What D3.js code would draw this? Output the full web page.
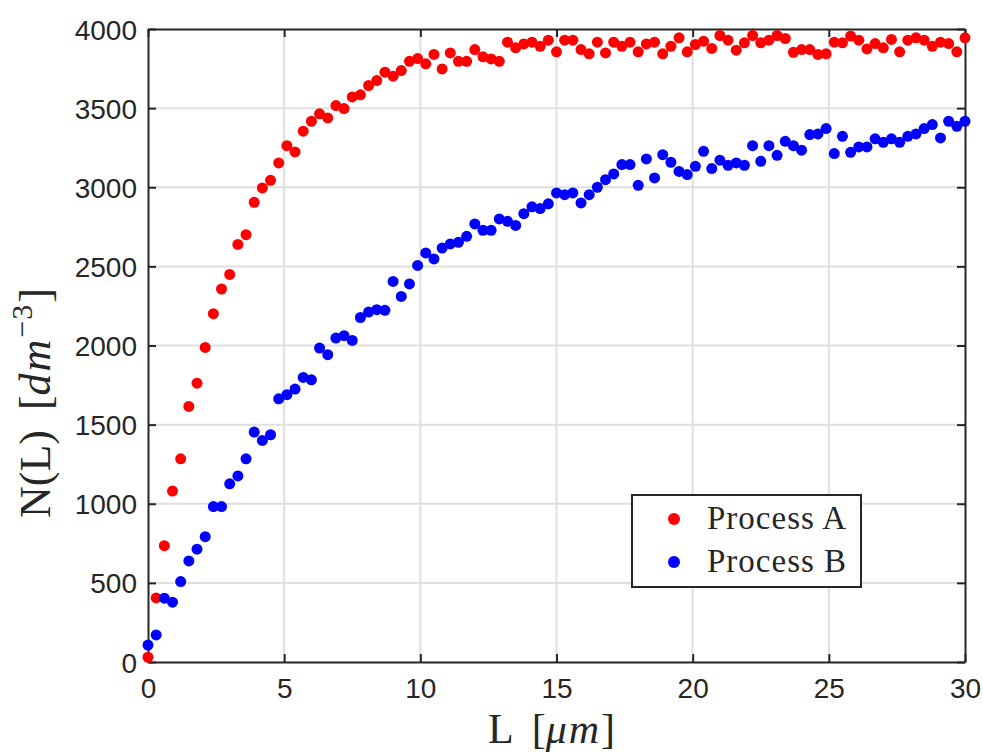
<!DOCTYPE html>
<html lang="en">
<head>
  <meta charset="UTF-8">
  <title>N(L) - Process A / Process B</title>
  <style>
    body { margin: 0; background: #fff; }
    svg { display: block; }
    .tick-label { font-family: "Liberation Sans", Arial, sans-serif; font-size: 28px; fill: #262626; }
    .axis-title, .legend-label { font-family: "Liberation Serif", "Times New Roman", serif; fill: #262626; }
  </style>
</head>
<body>
<div class="chart"></div>
<script src="https://cdn.jsdelivr.net/npm/d3@7"></script>
<script>
  // L values in micrometres (one dot per value, both processes)
  const lengths = [0, 0.3, 0.6, 0.9, 1.2, 1.5, 1.8, 2.1, 2.4, 2.7, 3, 3.3, 3.6, 3.9, 4.2, 4.5, 4.8, 5.1, 5.4, 5.7,
    6, 6.3, 6.6, 6.9, 7.2, 7.5, 7.8, 8.1, 8.4, 8.7, 9, 9.3, 9.6, 9.9, 10.2, 10.5, 10.8, 11.1, 11.4, 11.7,
    12, 12.3, 12.6, 12.9, 13.2, 13.5, 13.8, 14.1, 14.4, 14.7, 15, 15.3, 15.6, 15.9, 16.2, 16.5, 16.8, 17.1, 17.4, 17.7,
    18, 18.3, 18.6, 18.9, 19.2, 19.5, 19.8, 20.1, 20.4, 20.7, 21, 21.3, 21.6, 21.9, 22.2, 22.5, 22.8, 23.1, 23.4, 23.7,
    24, 24.3, 24.6, 24.9, 25.2, 25.5, 25.8, 26.1, 26.4, 26.7, 27, 27.3, 27.6, 27.9, 28.2, 28.5, 28.8, 29.1, 29.4, 29.7, 30];

  const processA = [30, 405, 735, 1080, 1284, 1615, 1762, 1988, 2201, 2357, 2449, 2639, 2700, 2905, 2996, 3044, 3154,
    3263, 3223, 3354, 3417, 3464, 3438, 3516, 3497, 3571, 3584, 3643, 3674, 3727, 3702, 3737, 3796, 3813,
    3780, 3839, 3748, 3849, 3796, 3796, 3870, 3824, 3811, 3796, 3917, 3881, 3906, 3917, 3891, 3929, 3856,
    3929, 3929, 3870, 3843, 3917, 3849, 3917, 3891, 3917, 3856, 3906, 3917, 3843, 3891, 3944, 3856, 3902,
    3923, 3877, 3959, 3929, 3866, 3913, 3959, 3913, 3929, 3959, 3940, 3853, 3870, 3870, 3839, 3843, 3917,
    3913, 3955, 3929, 3874, 3908, 3881, 3934, 3856, 3929, 3944, 3929, 3891, 3917, 3908, 3856, 3944];

  const processB = [107, 171, 403, 378, 508, 639, 713, 792, 982, 982, 1126, 1176, 1284, 1453, 1400, 1436, 1663,
    1689, 1725, 1798, 1783, 1984, 1942, 2047, 2062, 2032, 2177, 2211, 2226, 2222, 2405, 2310, 2389, 2506,
    2585, 2547, 2616, 2642, 2652, 2690, 2768, 2728, 2728, 2800, 2785, 2759, 2833, 2876, 2865, 2895, 2964,
    2953, 2964, 2901, 2953, 3000, 3048, 3084, 3143, 3143, 3012, 3179, 3059, 3206, 3158, 3100, 3080, 3132,
    3227, 3118, 3171, 3139, 3154, 3139, 3263, 3164, 3263, 3202, 3290, 3263, 3234, 3333, 3337, 3371, 3213,
    3322, 3221, 3255, 3255, 3306, 3284, 3306, 3284, 3322, 3337, 3371, 3396, 3312, 3417, 3385, 3417];

  const xTicks = [0, 5, 10, 15, 20, 25, 30];
  const yTicks = [0, 500, 1000, 1500, 2000, 2500, 3000, 3500, 4000];

  const seriesNames = ["Process A", "Process B"];
  const seriesColors = ["#ff0000", "#0000ff"];

  const width = 983,
    height = 754;
  const margin = {left: 148, right: 18, top: 29, bottom: 92};
  const axisColor = "#262626";

  const svg = d3.select(".chart")
    .append("svg")
    .attr("width", width)
    .attr("height", height);

  const x = d3.scaleLinear().domain([0, 30]).range([margin.left, width - margin.right]);
  const y = d3.scaleLinear().domain([0, 4000]).range([height - margin.bottom, margin.top]);

  /**
   * Grid
   */
  svg.append("g")
    .selectAll("line")
    .data(xTicks.slice(1, -1))
    .enter()
    .append("line")
    .attr("x1", d => x(d)).attr("x2", d => x(d))
    .attr("y1", y(0)).attr("y2", y(4000))
    .attr("stroke", "#dfdfdf")
    .attr("stroke-width", 2);

  svg.append("g")
    .selectAll("line")
    .data(yTicks.slice(1, -1))
    .enter()
    .append("line")
    .attr("x1", x(0)).attr("x2", x(30))
    .attr("y1", d => y(d)).attr("y2", d => y(d))
    .attr("stroke", "#dfdfdf")
    .attr("stroke-width", 2);

  /**
   * Axes (matlab style: box + inward ticks on all sides)
   */
  const tickLen = 8;
  const fmt = d3.format("d");
  const bottomAxis = svg.append("g")
    .attr("transform", `translate(0, ${y(0)})`)
    .call(d3.axisBottom(x).tickValues(xTicks).tickFormat(fmt).tickSizeInner(-tickLen).tickSizeOuter(0).tickPadding(16));
  const topAxis = svg.append("g")
    .attr("transform", `translate(0, ${y(4000)})`)
    .call(d3.axisTop(x).tickValues(xTicks).tickSizeInner(-tickLen).tickSizeOuter(0).tickFormat(""));
  const leftAxis = svg.append("g")
    .attr("transform", `translate(${x(0)}, 0)`)
    .call(d3.axisLeft(y).tickValues(yTicks).tickFormat(fmt).tickSizeInner(-tickLen).tickSizeOuter(0).tickPadding(11));
  const rightAxis = svg.append("g")
    .attr("transform", `translate(${x(30)}, 0)`)
    .call(d3.axisRight(y).tickValues(yTicks).tickSizeInner(-tickLen).tickSizeOuter(0).tickFormat(""));

  [bottomAxis, topAxis, leftAxis, rightAxis].forEach(g => {
    g.select(".domain").attr("stroke", axisColor).attr("stroke-width", 2);
    g.selectAll(".tick line").attr("stroke", axisColor).attr("stroke-width", 2);
    g.selectAll(".tick text").attr("class", "tick-label").attr("fill", null);
  });
  bottomAxis.selectAll(".tick text").attr("dy", "0.72em");
  leftAxis.selectAll(".tick text").attr("dy", "0.36em");

  /**
   * Dots: A first, B on top
   */
  [processA, processB].forEach((values, i) => {
    svg.append("g")
      .selectAll("circle")
      .data(values)
      .enter()
      .append("circle")
      .attr("cx", (d, j) => x(lengths[j]))
      .attr("cy", d => y(d))
      .attr("r", 5.5)
      .attr("fill", seriesColors[i]);
  });

  /**
   * Axis titles
   */
  const xTitle = svg.append("text")
    .attr("class", "axis-title")
    .attr("x", 488)
    .attr("y", 743)
    .attr("font-size", 42);
  xTitle.append("tspan").text("L");
  xTitle.append("tspan").attr("dx", 18).text("[");
  xTitle.append("tspan").attr("font-style", "italic").attr("letter-spacing", 2).text("μm");
  xTitle.append("tspan").text("]");

  const yTitle = svg.append("text")
    .attr("class", "axis-title")
    .attr("transform", `translate(50, 518) rotate(-90)`)
    .attr("font-size", 44);
  yTitle.append("tspan").text("N(L)");
  yTitle.append("tspan").attr("dx", 20).text("[");
  yTitle.append("tspan").attr("font-style", "italic").attr("letter-spacing", 2).text("dm");
  yTitle.append("tspan").attr("font-size", 30).attr("dy", -18).attr("letter-spacing", 1).text("−3");
  yTitle.append("tspan").attr("dy", 18).attr("dx", 1).text("]");

  /**
   * Legend
   */
  const legend = svg.append("g").attr("transform", "translate(632, 495)");
  legend.append("rect")
    .attr("width", 229)
    .attr("height", 92)
    .attr("fill", "#fff")
    .attr("stroke", axisColor)
    .attr("stroke-width", 2);

  seriesNames.forEach((name, i) => {
    legend.append("circle")
      .attr("cx", 42)
      .attr("cy", 24 + i * 43)
      .attr("r", 6)
      .attr("fill", seriesColors[i]);
    legend.append("text")
      .attr("class", "legend-label")
      .attr("x", 75)
      .attr("y", 34 + i * 43)
      .attr("font-size", 33)
      .attr("letter-spacing", 1)
      .text(name);
  });
</script>
</body>
</html>
